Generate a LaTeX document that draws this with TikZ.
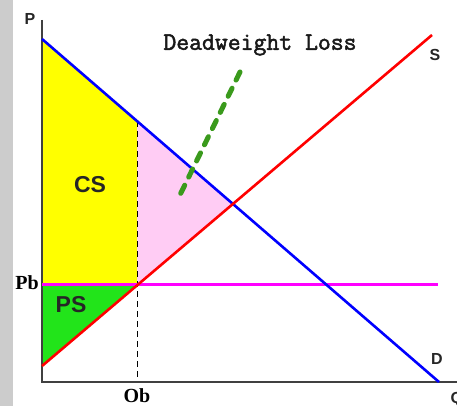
\documentclass[tikz,border=0pt]{standalone}
\usepackage{fontspec}
\setmainfont{Liberation Serif}
\setsansfont{Liberation Sans}
\newfontfamily\dwfont{Latin Modern Mono}[FakeBold=2]
\begin{document}
\begin{tikzpicture}[x=1pt,y=-1pt,
  sanslab/.style={font=\sffamily\bfseries\fontsize{16}{16}\selectfont, text=black!85},
  biglab/.style={font=\sffamily\bfseries\fontsize{23}{23}\selectfont, text=black!85},
  seriflab/.style={font=\rmfamily\bfseries\fontsize{20}{20}\selectfont, text=black},
  curve/.style={line width=2.6pt},
  axis/.style={line width=1.6pt, draw=black!75}]
\definecolor{csyellow}{HTML}{FFFF00}
\definecolor{dwpink}{HTML}{FFCCF4}
\definecolor{psgreen}{HTML}{22E41A}
\definecolor{dwgreen}{HTML}{3A9A1C}
\definecolor{bandgray}{HTML}{CCCCCC}
\definecolor{pbmag}{HTML}{FF00FF}
\useasboundingbox (0,0) rectangle (457,406);
\fill[white] (0,0) rectangle (457,406);
\fill[bandgray] (0,0) rectangle (13,406);
% key points
\coordinate (O) at (42,382);
\coordinate (Ptop) at (42,20);
\coordinate (Qend) at (457,382);
\coordinate (Dstart) at (42,39);
\coordinate (Dend) at (439,382);
\coordinate (Sstart) at (42,366);
\coordinate (Send) at (432,35);
\coordinate (Dob) at (137,121);
\coordinate (E) at (233,204);
\coordinate (Pbob) at (137,284.5);
\coordinate (Pbaxis) at (42,284.5);
\coordinate (Pbend) at (438,284.5);
\coordinate (Obaxis) at (137,382);
\coordinate (dwtop) at (240,72);
\coordinate (dwbot) at (177,201);
% areas
\fill[csyellow] (Dstart) -- (Dob) -- (Pbob) -- (Pbaxis) -- cycle;
\fill[dwpink] (Dob) -- (E) -- (Pbob) -- cycle;
\fill[psgreen] (Pbaxis) -- (Pbob) -- (Sstart) -- cycle;
% dashed vertical
\draw[line width=1pt, dash pattern=on 6pt off 4pt] (Dob) -- (Obaxis);
% axes
\draw[axis] (Ptop) -- (O) -- (Qend);
% curves
\draw[draw=pbmag, line width=3pt] (Pbaxis) -- (Pbend);
\draw[curve, blue] (Dstart) -- (Dend);
\draw[curve, red] (Sstart) -- (Send);
% deadweight pointer
\draw[dwgreen, line width=5pt, line cap=round, dash pattern=on 9pt off 9pt] (dwtop) -- (dwbot);
% labels
\node[sanslab] (lP) at (30,19) {P};
\node[sanslab] (lS) at (435,55) {S};
\node[sanslab] (lD) at (437,359) {D};
\node[sanslab, anchor=west] (lQ) at (447,399) {Q};
\node[biglab] (lCS) at (90,185) {CS};
\node[biglab] (lPS) at (71,305) {PS};
\node[seriflab] (lPb) at (27,283) {Pb};
\node[seriflab] (lOb) at (137,396) {Ob};
\node[font=\dwfont\fontsize{25}{25}\selectfont, text=black!90] (lDW) at (260,45) {Deadweight Loss};
\end{tikzpicture}
\end{document}
